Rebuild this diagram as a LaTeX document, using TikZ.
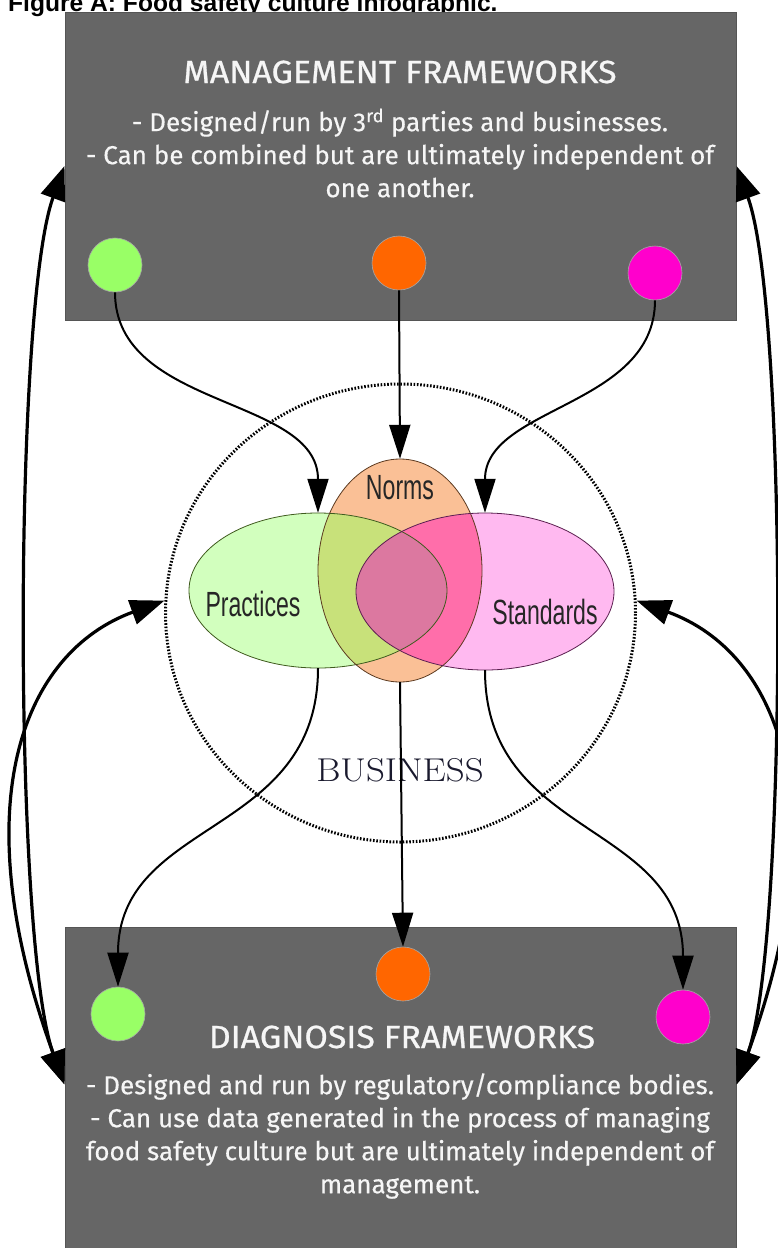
\documentclass[tikz,border=0pt]{standalone}
\usepackage{fontspec}
\newfontfamily\boxfont[FakeBold=0.4]{Fira Sans}
\newfontfamily\headfont[FakeStretch=1.06,FakeBold=0.8]{Fira Sans}
\newfontfamily\titlefont{Liberation Sans}
\newfontfamily\labelfont[FakeStretch=0.66]{Liberation Sans}
\newfontfamily\bizfont[FakeStretch=1.12]{Latin Modern Roman}
\usetikzlibrary{arrows.meta,shapes.geometric,calc}
\definecolor{boxgray}{HTML}{666666}
\definecolor{boxedge}{HTML}{555555}
\definecolor{cgreen}{HTML}{99FF66}
\definecolor{corange}{HTML}{FF6600}
\definecolor{cmagenta}{HTML}{FF00CC}
\definecolor{pfill}{HTML}{D2FFBE}
\definecolor{nfill}{HTML}{FAC096}
\definecolor{sfill}{HTML}{FFB9F0}
\definecolor{pnfill}{HTML}{C8E17A}
\definecolor{nsfill}{HTML}{FF6EAA}
\definecolor{pnsfill}{HTML}{DC78A0}
\definecolor{pline}{HTML}{3F5A1E}
\definecolor{nline}{HTML}{5C3A20}
\definecolor{sline}{HTML}{5A1F4F}
\definecolor{txtlight}{HTML}{F6F6F6}
\definecolor{bizcol}{HTML}{1A1A2E}
\tikzset{
  framebox/.style={rectangle, fill=boxgray, draw=boxedge, line width=1pt, inner sep=0},
  headtext/.style={text=txtlight, font=\headfont\fontsize{32}{36}\selectfont, inner sep=0},
  bodytext/.style={text=txtlight, font=\boxfont\fontsize{26}{33}\selectfont, align=center, inner sep=0},
  fwdot/.style={circle, minimum size=54pt, inner sep=0, draw=black!35, line width=0.6pt},
  venn/.style={ellipse, inner sep=0},
  vlabel/.style={font=\labelfont\fontsize{35}{38}\selectfont, text=black!85, inner sep=0},
  flow/.style={line width=2pt, -{Triangle[length=34pt, width=21pt]}},
  link/.style={line width=3.2pt, {Triangle[length=34pt, width=25pt]}-{Triangle[length=34pt, width=25pt]}}
}
\begin{document}
\begin{tikzpicture}[x=1pt,y=1pt]
\useasboundingbox (0,0) rectangle (777,-1248);
% title
\node[anchor=base west, font=\titlefont\bfseries\fontsize{24.6}{28}\selectfont, inner sep=0] (fig) at (8,-11) {Figure A: Food safety culture infographic.};
% boxes
\node[framebox, minimum width=671pt, minimum height=308pt] (mgmt) at (400.5,-166) {};
\node[framebox, minimum width=671pt, minimum height=340pt] (diag) at (400.5,-1097) {};
\node[headtext] (mgmttitle) at (400,-72) {MANAGEMENT FRAMEWORKS};
\node[bodytext] (mgmtbody) at (400,-153) {- Designed/run by 3\textsuperscript{rd} parties and businesses.\\- Can be combined but are ultimately independent of\\one another.};
\node[headtext] (diagtitle) at (402,-1037) {DIAGNOSIS FRAMEWORKS};
\node[bodytext] (diagbody) at (400,-1136) {- Designed and run by regulatory/compliance bodies.\\- Can use data generated in the process of managing\\food safety culture but are ultimately independent of\\management.};
% circles
\node[fwdot, fill=cgreen] (mg) at (115,-265) {};
\node[fwdot, fill=corange] (mo) at (399,-263) {};
\node[fwdot, fill=cmagenta] (mm) at (655,-273) {};
\node[fwdot, fill=cgreen] (dg) at (118,-1014) {};
\node[fwdot, fill=corange] (do) at (403,-974) {};
\node[fwdot, fill=cmagenta] (dm) at (683,-1017) {};
% business circle
\node[ellipse, minimum width=470pt, minimum height=458pt, inner sep=0, draw, line width=3pt, dash pattern=on 1.6pt off 1.7pt] (biz) at (400.5,-613) {};
\node[font=\bizfont\fontsize{33}{36}\selectfont, text=bizcol, inner sep=0] (bizlabel) at (400,-770) {BUSINESS};
% venn
\node[venn, minimum width=258pt, minimum height=155pt] (prac) at (318,-590.5) {};
\node[venn, minimum width=164pt, minimum height=223pt] (norm) at (400,-570.5) {};
\node[venn, minimum width=258pt, minimum height=157pt] (stand) at (485,-591.5) {};
\fill[nfill] (norm.center) ellipse [x radius=82, y radius=111.5];
\fill[pfill] (prac.center) ellipse [x radius=129, y radius=77.5];
\fill[sfill] (stand.center) ellipse [x radius=129, y radius=78.5];
\begin{scope}
  \clip (prac.center) ellipse [x radius=129, y radius=77.5];
  \fill[pnfill] (norm.center) ellipse [x radius=82, y radius=111.5];
\end{scope}
\begin{scope}
  \clip (stand.center) ellipse [x radius=129, y radius=78.5];
  \fill[nsfill] (norm.center) ellipse [x radius=82, y radius=111.5];
\end{scope}
\begin{scope}
  \clip (prac.center) ellipse [x radius=129, y radius=77.5];
  \fill[pnsfill] (stand.center) ellipse [x radius=129, y radius=78.5];
\end{scope}
\draw[pline, line width=0.8pt] (prac.center) ellipse [x radius=129, y radius=77.5];
\draw[nline, line width=0.8pt] (norm.center) ellipse [x radius=82, y radius=111.5];
\draw[sline, line width=0.8pt] (stand.center) ellipse [x radius=129, y radius=78.5];
\node[vlabel] (lp) at (253,-604) {Practices};
\node[vlabel] (ln) at (400,-488) {Norms};
\node[vlabel] (ls) at (545,-612) {Standards};
% connectors
\draw[flow] (mg.south) to[out=-90,in=90] (prac.north);
\draw[flow] (mo.south) -- (norm.north);
\draw[flow] (mm.south) to[out=-90,in=90] (stand.north);
\draw[flow] (prac.south) to[out=-90,in=90,looseness=1.15] (dg.north);
\draw[flow] (norm.south) -- (do.north);
\draw[flow] (stand.south) to[out=-90,in=90,looseness=1.15] (dm.north);
% side links
\coordinate (dl) at ([yshift=-158pt]diag.north west);
\coordinate (dr) at ([yshift=-158pt]diag.north east);
\draw[link] (mgmt.west) .. controls +(-110:150) and +(110:150) .. (dl);
\draw[link] (biz.177) .. controls +(200:150) and +(110:300) .. (dl);
\draw[link] (mgmt.east) .. controls +(-70:150) and +(70:150) .. (dr);
\draw[link] (biz.3) .. controls +(-20:150) and +(70:300) .. (dr);
\end{tikzpicture}
\end{document}
